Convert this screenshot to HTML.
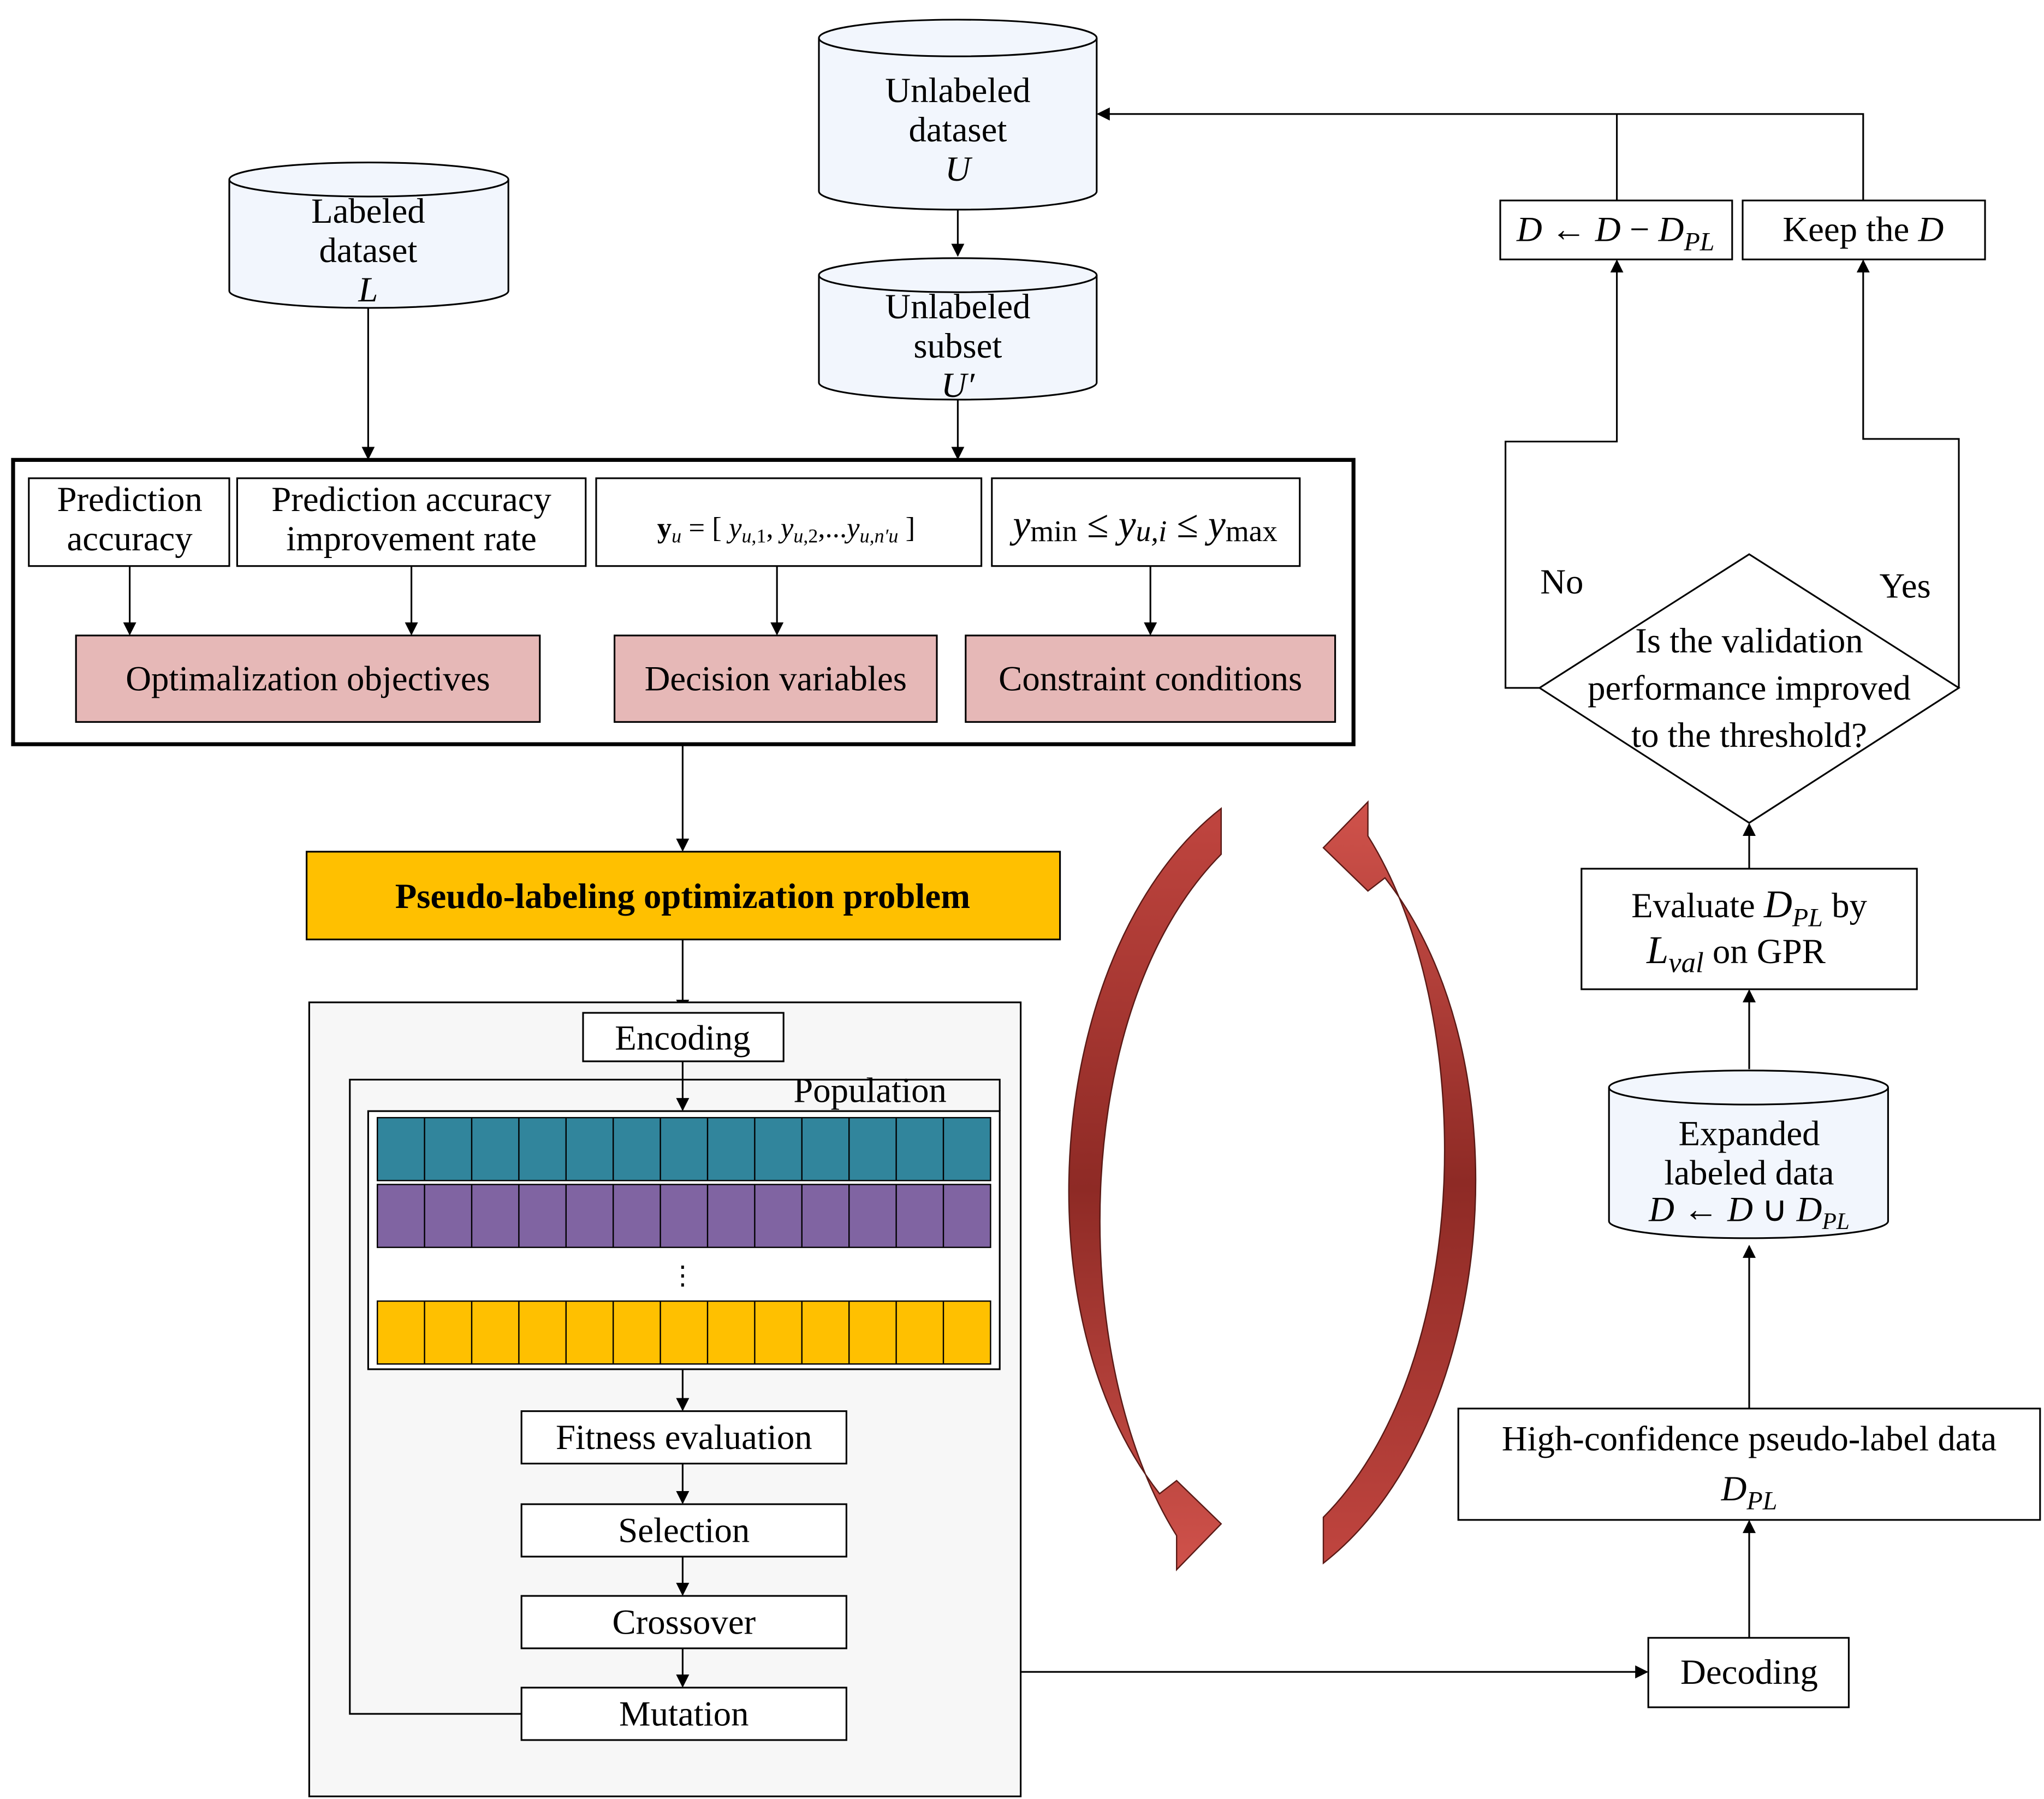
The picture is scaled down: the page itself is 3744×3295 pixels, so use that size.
<!DOCTYPE html>
<html><head><meta charset="utf-8"><style>
html,body{margin:0;padding:0;background:#fff}
svg{display:block}
text{font-family:"Liberation Serif",serif;font-size:27px;fill:#000;text-anchor:middle}
.i{font-style:italic}
</style></head><body>
<svg width="3744" height="3295" viewBox="0 0 1560 1373" preserveAspectRatio="none" xmlns="http://www.w3.org/2000/svg">
<defs>
<marker id="a" markerWidth="10" markerHeight="10" refX="9" refY="5" orient="auto" markerUnits="userSpaceOnUse"><path d="M0,0 L10,5 L0,10 Z" fill="#000"/></marker>
<linearGradient id="g1" x1="0" y1="0" x2="0" y2="1"><stop offset="0" stop-color="#c0453f"/><stop offset="0.5" stop-color="#8e2a25"/><stop offset="1" stop-color="#d0524b"/></linearGradient>
</defs>
<g stroke="#000" stroke-width="1.3" fill="none">
<path d="M175,137 L175,222 A106.5,13 0 0 0 388,222 L388,137" fill="#f2f6fd"/><ellipse cx="281.5" cy="137" rx="106.5" ry="13" fill="#f2f6fd"/>
<path d="M625,29 L625,146 A106,14 0 0 0 837,146 L837,29" fill="#f2f6fd"/><ellipse cx="731" cy="29" rx="106" ry="14" fill="#f2f6fd"/>
<path d="M625,210 L625,292 A106,13 0 0 0 837,292 L837,210" fill="#f2f6fd"/><ellipse cx="731" cy="210" rx="106" ry="13" fill="#f2f6fd"/>
<path d="M1228,830 L1228,932 A106.5,13 0 0 0 1441,932 L1441,830" fill="#f2f6fd"/><ellipse cx="1334.5" cy="830" rx="106.5" ry="13" fill="#f2f6fd"/>
<line x1="731" y1="160" x2="731" y2="195" marker-end="url(#a)"/>
<line x1="281" y1="235" x2="281" y2="350" marker-end="url(#a)"/>
<line x1="731" y1="305" x2="731" y2="350" marker-end="url(#a)"/>
<rect x="10" y="351" width="1023" height="217" stroke-width="3"/>
<rect x="22" y="365" width="153" height="67" fill="#fff"/>
<rect x="181" y="365" width="266" height="67" fill="#fff"/>
<rect x="455" y="365" width="294" height="67" fill="#fff"/>
<rect x="757" y="365" width="235" height="67" fill="#fff"/>
<rect x="58" y="485" width="354" height="66" fill="#e6b8b7"/>
<rect x="469" y="485" width="246" height="66" fill="#e6b8b7"/>
<rect x="737" y="485" width="282" height="66" fill="#e6b8b7"/>
<line x1="99" y1="432" x2="99" y2="484" marker-end="url(#a)"/>
<line x1="314" y1="432" x2="314" y2="484" marker-end="url(#a)"/>
<line x1="593" y1="432" x2="593" y2="484" marker-end="url(#a)"/>
<line x1="878" y1="432" x2="878" y2="484" marker-end="url(#a)"/>
<line x1="521" y1="568" x2="521" y2="649" marker-end="url(#a)"/>
<rect x="234" y="650" width="575" height="67" fill="#ffc000"/>
<line x1="521" y1="717" x2="521" y2="772" marker-end="url(#a)"/>
<rect x="236" y="765" width="543" height="606" fill="#f7f7f7"/>
<rect x="445" y="773" width="153" height="37" fill="#fff"/>
<path d="M398,1308 L267,1308 L267,824 L763,824 L763,848"/>
<line x1="521" y1="810" x2="521" y2="847" marker-end="url(#a)"/>
<rect x="281" y="848" width="482" height="197" fill="#fff"/>
<line x1="521" y1="1045" x2="521" y2="1076" marker-end="url(#a)"/>
<rect x="398" y="1077" width="248" height="40" fill="#fff"/>
<line x1="521" y1="1117" x2="521" y2="1147" marker-end="url(#a)"/>
<rect x="398" y="1148" width="248" height="40" fill="#fff"/>
<line x1="521" y1="1188" x2="521" y2="1217" marker-end="url(#a)"/>
<rect x="398" y="1218" width="248" height="40" fill="#fff"/>
<line x1="521" y1="1258" x2="521" y2="1287" marker-end="url(#a)"/>
<rect x="398" y="1288" width="248" height="40" fill="#fff"/>
<line x1="779" y1="1276" x2="1257" y2="1276" marker-end="url(#a)"/>
<rect x="1258" y="1250" width="153" height="53" fill="#fff"/>
<line x1="1335" y1="1250" x2="1335" y2="1161" marker-end="url(#a)"/>
<rect x="1113" y="1075" width="444" height="85" fill="#fff"/>
<line x1="1335" y1="1075" x2="1335" y2="951" marker-end="url(#a)"/>
<line x1="1335" y1="816" x2="1335" y2="756" marker-end="url(#a)"/>
<rect x="1207" y="663" width="256" height="92" fill="#fff"/>
<line x1="1335" y1="663" x2="1335" y2="629" marker-end="url(#a)"/>
<path d="M1335,423 L1495,525 L1335,628 L1175,525 Z" fill="#fff"/>
<path d="M1175,525 L1149,525 L1149,337 L1234,337 L1234,199" marker-end="url(#a)"/>
<path d="M1495,525 L1495,335 L1422,335 L1422,199" marker-end="url(#a)"/>
<rect x="1145" y="153" width="177" height="45" fill="#fff"/>
<rect x="1330" y="153" width="185" height="45" fill="#fff"/>
<path d="M1234,153 L1234,87 M1422,153 L1422,87 L838,87" marker-end="url(#a)"/>
</g>
<g stroke="#000" stroke-width="1">
<rect x="288" y="853" width="468" height="48" fill="#31859c"/>
<rect x="288" y="904" width="468" height="48" fill="#8064a2"/>
<rect x="288" y="993" width="468" height="48" fill="#ffc000"/>
<path d="M324,853V901M360,853V901M396,853V901M432,853V901M468,853V901M504,853V901M540,853V901M576,853V901M612,853V901M648,853V901M684,853V901M720,853V901
M324,904V952M360,904V952M396,904V952M432,904V952M468,904V952M504,904V952M540,904V952M576,904V952M612,904V952M648,904V952M684,904V952M720,904V952
M324,993V1041M360,993V1041M396,993V1041M432,993V1041M468,993V1041M504,993V1041M540,993V1041M576,993V1041M612,993V1041M648,993V1041M684,993V1041M720,993V1041"/>
</g>
<path id="la" d="M932,617 C800,720 775,1000 885,1140 L898,1130 L932,1163 L898,1198 L898,1172 C815,1040 815,770 932,652 Z" fill="url(#g1)" stroke="#5a1a16" stroke-width="1"/>
<path d="M932,617 C800,720 775,1000 885,1140 L898,1130 L932,1163 L898,1198 L898,1172 C815,1040 815,770 932,652 Z" fill="url(#g1)" stroke="#5a1a16" stroke-width="1" transform="rotate(180 971 905)"/>
<text x="281" y="170">Labeled</text><text x="281" y="200">dataset</text><text x="281" y="230" class="i">L</text>
<text x="731" y="78">Unlabeled</text><text x="731" y="108">dataset</text><text x="731" y="138" class="i">U</text>
<text x="731" y="243">Unlabeled</text><text x="731" y="273">subset</text><text x="731" y="303" class="i">U′</text>
<text x="99" y="390">Prediction</text><text x="99" y="420">accuracy</text>
<text x="314" y="390">Prediction accuracy</text><text x="314" y="420">improvement rate</text>
<text x="600" y="410" style="font-size:22px"><tspan font-weight="bold">y</tspan><tspan class="i" font-size="15" dy="4">u</tspan><tspan dy="-4"> = [ </tspan><tspan class="i">y</tspan><tspan font-size="15" dy="4" class="i">u</tspan><tspan font-size="15">,1</tspan><tspan dy="-4">, </tspan><tspan class="i">y</tspan><tspan font-size="15" dy="4" class="i">u</tspan><tspan font-size="15">,2</tspan><tspan dy="-4">,...</tspan><tspan class="i">y</tspan><tspan font-size="15" dy="4" class="i">u,n′u</tspan><tspan dy="-4"> ]</tspan></text>
<text x="874" y="410" style="font-size:30px"><tspan class="i">y</tspan><tspan font-size="23" dy="3">min</tspan><tspan dy="-3"> ≤ </tspan><tspan class="i">y</tspan><tspan font-size="23" class="i" dy="3">u,i</tspan><tspan dy="-3"> ≤ </tspan><tspan class="i">y</tspan><tspan font-size="23" dy="3">max</tspan></text>
<text x="235" y="527">Optimalization objectives</text>
<text x="592" y="527">Decision variables</text>
<text x="878" y="527">Constraint conditions</text>
<text x="521" y="693" font-weight="bold">Pseudo-labeling optimization problem</text>
<text x="521" y="801">Encoding</text>
<text x="664" y="841">Population</text>
<text x="521" y="980" style="font-size:20px">⋮</text>
<text x="522" y="1106">Fitness evaluation</text>
<text x="522" y="1177">Selection</text>
<text x="522" y="1247">Crossover</text>
<text x="522" y="1317">Mutation</text>
<text x="1335" y="1285">Decoding</text>
<text x="1335" y="1107">High-confidence pseudo-label data</text>
<text x="1335" y="1145"><tspan class="i">D</tspan><tspan class="i" font-size="20" dy="7">PL</tspan></text>
<text x="1335" y="874">Expanded</text><text x="1335" y="904">labeled data</text>
<text x="1335" y="932"><tspan class="i">D</tspan> ← <tspan class="i">D</tspan> ∪ <tspan class="i">D</tspan><tspan class="i" font-size="18" dy="6">PL</tspan></text>
<text x="1335" y="700">Evaluate <tspan class="i" font-size="30">D</tspan><tspan class="i" font-size="20" dy="7">PL</tspan><tspan dy="-7"> by</tspan></text>
<text x="1325" y="735"><tspan class="i" font-size="30">L</tspan><tspan class="i" font-size="22" dy="7">val</tspan><tspan dy="-7"> on GPR</tspan></text>
<text x="1335" y="498">Is the validation</text><text x="1335" y="534">performance improved</text><text x="1335" y="570">to the threshold?</text>
<text x="1192" y="453">No</text><text x="1454" y="456">Yes</text>
<text x="1233" y="184"><tspan class="i">D</tspan> ← <tspan class="i">D</tspan> − <tspan class="i">D</tspan><tspan class="i" font-size="20" dy="7">PL</tspan></text>
<text x="1422" y="184">Keep the <tspan class="i">D</tspan></text>
</svg>
</body></html>
